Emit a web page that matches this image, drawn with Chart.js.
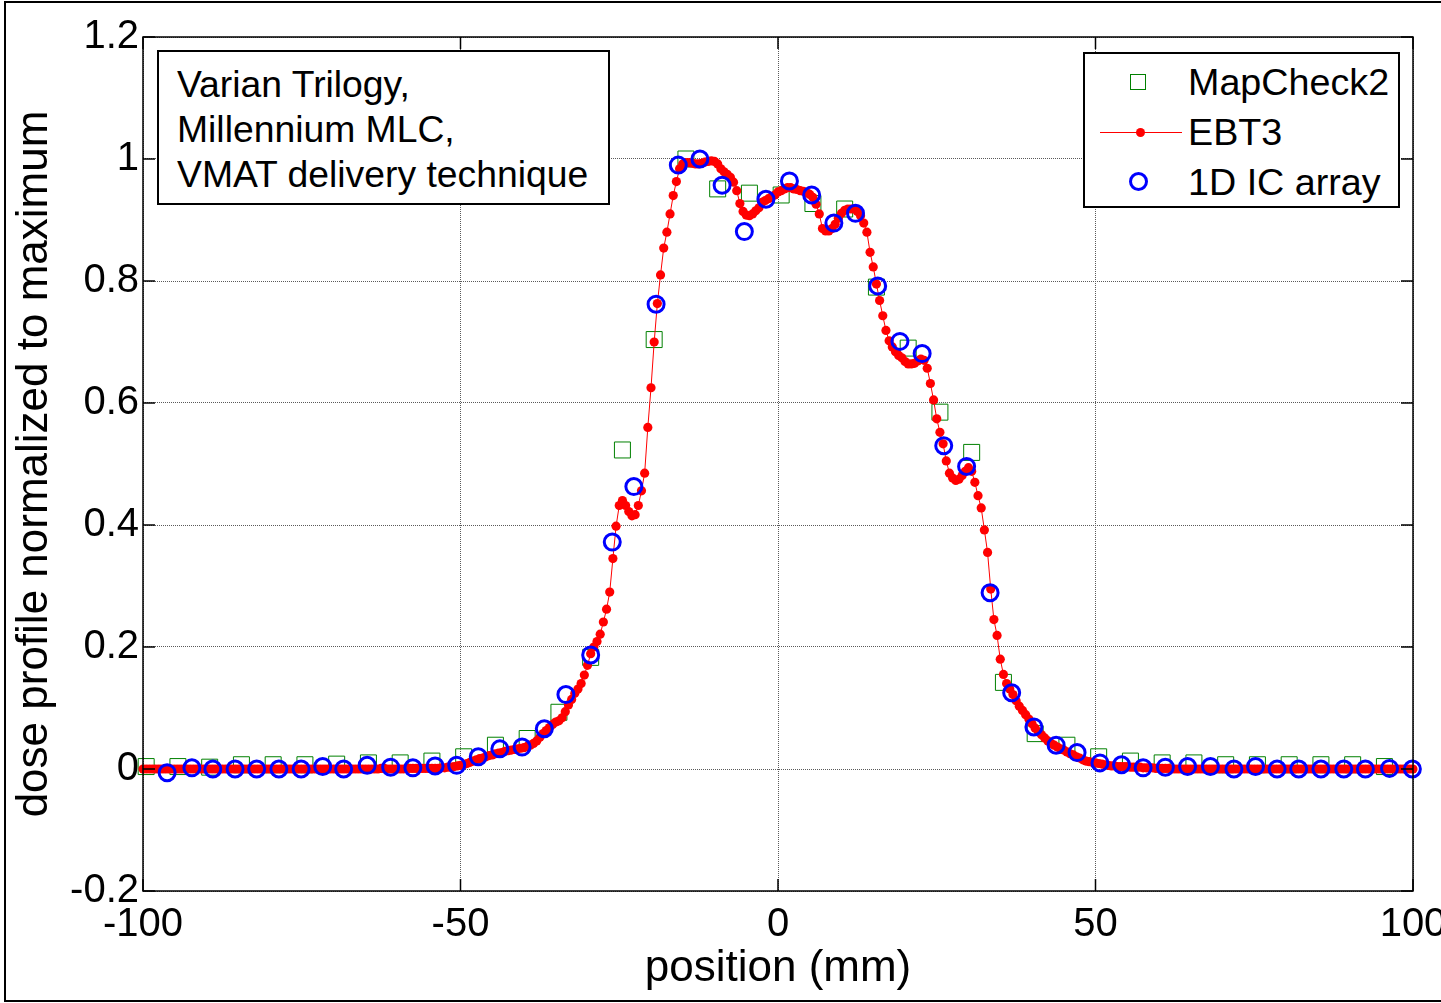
<!DOCTYPE html>
<html>
<head>
<meta charset="utf-8">
<title>Dose profile</title>
<script src="https://cdn.jsdelivr.net/npm/chart.js@4.4.1/dist/chart.umd.min.js"></script>
<style>
  body { margin: 0; background: #fff; font-family: "Liberation Sans", Arial, sans-serif; }
  #wrap { position: relative; width: 1441px; height: 1003px; overflow: hidden; }
  #chart { position: absolute; left: 0; top: 0; }
  .note {
    position: absolute; left: 157px; top: 50px; width: 453px; height: 155px;
    box-sizing: border-box; border: 2px solid #000; background: #fff;
    padding: 10px 0 0 18px; font-size: 37.3px; line-height: 45px; color: #000; white-space: nowrap;
  }
  .legend {
    position: absolute; left: 1083px; top: 52px; width: 317px; height: 156px;
    box-sizing: border-box; border: 2px solid #000; background: #fff;
  }
  .legend .lbl { position: absolute; left: 103px; height: 50px; line-height: 50px; font-size: 37.7px; color: #000; white-space: nowrap; }
  .legend .sq { position: absolute; left: 45px; top: 20px; width: 16px; height: 16px; box-sizing: border-box; border: 1px solid rgb(0,128,0); }
  .legend .ln { position: absolute; left: 15px; top: 78px; width: 82px; height: 1px; background: #f00; }
  .legend .dot { position: absolute; left: 51px; top: 74px; width: 9px; height: 9px; border-radius: 50%; background: #f00; }
  .legend .ring { position: absolute; left: 44px; top: 118px; width: 19px; height: 19px; box-sizing: border-box; border: 3px solid #00f; border-radius: 50%; }
</style>
</head>
<body>
<div id="wrap">
  <canvas id="chart" width="1441" height="1003"></canvas>
  <div class="note">Varian Trilogy,<br>Millennium MLC,<br>VMAT delivery technique</div>
  <div class="legend">
    <span class="sq"></span><div class="lbl" style="top:3px">MapCheck2</div>
    <span class="ln"></span><span class="dot"></span><div class="lbl" style="top:53px">EBT3</div>
    <span class="ring"></span><div class="lbl" style="top:103px">1D IC array</div>
  </div>
</div>
<script>
// axis ticks
const xTicks = [-100, -50, 0, 50, 100];
const xTickLabels = ['-100', '-50', '0', '50', '100'];
const yTicks = [-0.2, 0, 0.2, 0.4, 0.6, 0.8, 1.0, 1.2];
const yTickLabels = ['-0.2', '0', '0.2', '0.4', '0.6', '0.8', '1', '1.2'];

// MapCheck2 detectors (mm, relative dose)
const mapCheckPos = [
  -99.5, -94.5, -89.5, -84.5, -79.5, -74.5, -69.5, -64.5, -59.5, -54.5,
  -49.5, -44.5, -39.5, -34.5, -29.5, -24.5, -19.5, -14.5, -9.5, -4.5,
  0.5, 5.5, 10.5, 15.5, 20.5, 25.5, 30.5, 35.5, 40.5, 45.5,
  50.5, 55.5, 60.5, 65.5, 70.5, 75.5, 80.5, 85.5, 90.5, 95.5
];
const mapCheckDose = [
  0.004, 0.004, 0.003, 0.007, 0.007, 0.007, 0.008, 0.010, 0.010, 0.013,
  0.020, 0.039, 0.050, 0.093, 0.183, 0.523, 0.704, 1.000, 0.951, 0.944,
  0.941, 0.927, 0.918, 0.790, 0.690, 0.585, 0.519, 0.142, 0.058, 0.039,
  0.020, 0.013, 0.010, 0.010, 0.007, 0.007, 0.007, 0.007, 0.007, 0.004
];

// 1D ion chamber array
const icPos = [
  -96.2, -92.3, -89.0, -85.5, -82.1, -78.6, -75.1, -71.7, -68.4, -64.7, -61.0, -57.5, -54.0, -50.6,
  -47.2, -43.8, -40.3, -36.8, -33.4, -29.5, -26.1, -22.7, -19.2, -15.7, -12.3, -8.8, -5.3, -1.9,
  1.8, 5.3, 8.8, 12.2, 15.7, 19.2, 22.7, 26.1, 29.7, 33.4, 36.8, 40.3, 43.8, 47.1,
  50.7, 54.1, 57.5, 61.0, 64.5, 68.1, 71.8, 75.2, 78.6, 82.0, 85.5, 89.1, 92.5, 96.3, 99.9
];
const icDose = [
  -0.006, 0.002, 0, 0, 0, 0, 0, 0.004, 0, 0.006, 0.003, 0.002, 0.005, 0.006,
  0.020, 0.033, 0.036, 0.066, 0.122, 0.187, 0.372, 0.463, 0.762, 0.990, 1.000, 0.957, 0.881, 0.934,
  0.964, 0.941, 0.895, 0.911, 0.792, 0.701, 0.681, 0.530, 0.496, 0.289, 0.125, 0.069, 0.039, 0.027,
  0.010, 0.007, 0.002, 0.003, 0.004, 0.004, 0, 0.004, 0, 0, 0, 0, 0, 0.001, 0
];

// EBT3 film profile, one reading every 0.5 mm from -100 mm
const ebt3Start = -100;
const ebt3Step = 0.5;
const ebt3Dose = [
  0, 0, 0, 0, 0, 0, 0, 0, 0, 0,
  0, 0, 0, 0, 0, 0, 0, 0, 0, 0,
  0, 0, 0, 0, 0, 0, 0, 0, 0, 0,
  0, 0, 0, 0, 0, 0, 0, 0, 0, 0,
  0, 0, 0, 0, 0, 0, 0, 0, 0, 0,
  0, 0, 0, 0, 0, 0, 0, 0, 0, 0,
  0, 0, 0, 0, 0, 0, 0, 0, 0, 0,
  0, 0, 0, 0, 0, 0.001, 0.001, 0, 0, 0,
  0, 0, 0, 0.001, 0.001, 0.001, 0.001, 0.001, 0.001, 0.001,
  0.001, 0.001, 0.001, 0.001, 0.002, 0.002, 0.003, 0.003, 0.004, 0.005,
  0.006, 0.007, 0.009, 0.011, 0.013, 0.015, 0.017, 0.018, 0.020, 0.022,
  0.023, 0.025, 0.026, 0.027, 0.029, 0.030, 0.031, 0.032, 0.033, 0.034,
  0.035, 0.037, 0.039, 0.042, 0.046, 0.052, 0.058, 0.063, 0.068, 0.073,
  0.077, 0.079, 0.084, 0.094, 0.105, 0.114, 0.124, 0.131, 0.140, 0.154,
  0.170, 0.189, 0.200, 0.209, 0.221, 0.241, 0.262, 0.290, 0.345, 0.398,
  0.432, 0.440, 0.432, 0.422, 0.415, 0.417, 0.432, 0.456, 0.485, 0.560,
  0.625, 0.700, 0.763, 0.810, 0.854, 0.880, 0.910, 0.940, 0.963, 0.984,
  0.992, 0.994, 0.994, 0.993, 0.992, 0.992, 0.993, 0.995, 0.996, 0.997,
  0.996, 0.992, 0.984, 0.979, 0.975, 0.970, 0.962, 0.948, 0.927, 0.914,
  0.908, 0.907, 0.910, 0.915, 0.920, 0.929, 0.932, 0.935, 0.938, 0.941,
  0.946, 0.948, 0.951, 0.953, 0.953, 0.951, 0.950, 0.948, 0.947, 0.945,
  0.942, 0.937, 0.926, 0.910, 0.886, 0.882, 0.882, 0.886, 0.893, 0.903,
  0.911, 0.916, 0.918, 0.918, 0.918, 0.914, 0.907, 0.895, 0.880, 0.847,
  0.823, 0.795, 0.768, 0.743, 0.719, 0.702, 0.692, 0.684, 0.678, 0.674,
  0.668, 0.664, 0.664, 0.665, 0.669, 0.672, 0.670, 0.657, 0.632, 0.605,
  0.574, 0.552, 0.533, 0.505, 0.485, 0.477, 0.473, 0.475, 0.481, 0.488,
  0.494, 0.488, 0.470, 0.448, 0.428, 0.392, 0.355, 0.295, 0.245, 0.219,
  0.180, 0.155, 0.140, 0.131, 0.122, 0.112, 0.103, 0.096, 0.089, 0.082,
  0.074, 0.067, 0.061, 0.056, 0.051, 0.046, 0.042, 0.039, 0.036, 0.033,
  0.031, 0.028, 0.025, 0.023, 0.020, 0.018, 0.015, 0.013, 0.012, 0.011,
  0.010, 0.009, 0.008, 0.007, 0.006, 0.005, 0.005, 0.004, 0.004, 0.004,
  0.004, 0.003, 0.003, 0.003, 0.003, 0.002, 0.002, 0.002, 0.002, 0.001,
  0.001, 0.001, 0.001, 0.001, 0, 0, 0, 0, 0, 0,
  0, 0, 0, 0, 0, 0, 0, 0, 0, 0,
  0, 0, 0, 0, 0, 0, 0, 0, 0, 0,
  0, 0, 0, 0, 0, 0, 0, 0, 0, 0,
  0, 0, 0, 0, 0, 0, 0, 0, 0, 0,
  0, 0, 0, 0, 0, 0, 0, 0, 0, 0,
  0, 0, 0, 0, 0, 0, 0, 0, 0, 0,
  0, 0, 0, 0, 0, 0, 0, 0, 0, 0,
  0
];

const fontFamily = '"Liberation Sans", Arial, sans-serif';

// box around the axes, inward ticks on all four sides, and the figure frame
const matlabAxes = {
  id: 'matlabAxes',
  afterDraw(chart) {
    const ctx = chart.ctx;
    const a = chart.chartArea;
    const xs = chart.scales.x, ys = chart.scales.y;
    const tickLen = 12;
    ctx.save();
    ctx.strokeStyle = '#000';
    ctx.lineWidth = 1.5;
    ctx.strokeRect(a.left, a.top, a.right - a.left, a.bottom - a.top);
    ctx.beginPath();
    xTicks.forEach(v => {
      const px = xs.getPixelForValue(v);
      ctx.moveTo(px, a.bottom); ctx.lineTo(px, a.bottom - tickLen);
      ctx.moveTo(px, a.top); ctx.lineTo(px, a.top + tickLen);
    });
    yTicks.forEach(v => {
      const py = ys.getPixelForValue(v);
      ctx.moveTo(a.left, py); ctx.lineTo(a.left + tickLen, py);
      ctx.moveTo(a.right, py); ctx.lineTo(a.right - tickLen, py);
    });
    ctx.stroke();
    // outer figure frame
    ctx.lineWidth = 2;
    ctx.beginPath();
    ctx.moveTo(1441, 2); ctx.lineTo(5, 2); ctx.lineTo(5, 1001); ctx.lineTo(1441, 1001);
    ctx.stroke();
    ctx.restore();
  }
};

const ctx = document.getElementById('chart').getContext('2d');
new Chart(ctx, {
  type: 'scatter',
  data: {
    datasets: [
      {
        label: 'MapCheck2',
        data: mapCheckPos.map((x, i) => ({ x: x, y: mapCheckDose[i] })),
        pointStyle: 'rect',
        pointRadius: 11.3,
        pointBorderWidth: 1,
        pointBorderColor: 'rgb(0,128,0)',
        pointBackgroundColor: 'rgba(0,0,0,0)',
        showLine: false,
        clip: false,
        order: 3
      },
      {
        label: 'EBT3',
        data: ebt3Dose.map((d, i) => ({ x: ebt3Start + i * ebt3Step, y: d })),
        showLine: true,
        borderColor: '#ff0000',
        borderWidth: 1,
        pointRadius: 4.6,
        pointBorderWidth: 0,
        pointBackgroundColor: '#ff0000',
        clip: false,
        order: 2
      },
      {
        label: '1D IC array',
        data: icPos.map((x, i) => ({ x: x, y: icDose[i] })),
        pointStyle: 'circle',
        pointRadius: 8,
        pointBorderWidth: 3,
        pointBorderColor: '#0000ff',
        pointBackgroundColor: 'rgba(0,0,0,0)',
        showLine: false,
        clip: false,
        order: 1
      }
    ]
  },
  options: {
    responsive: false,
    animation: false,
    devicePixelRatio: 1,
    events: [],
    layout: { padding: { left: 0, top: 37, right: 28, bottom: 0 } },
    plugins: { legend: { display: false }, tooltip: { enabled: false } },
    scales: {
      x: {
        type: 'linear',
        min: -100,
        max: 100,
        afterBuildTicks: s => { s.ticks = xTicks.map(v => ({ value: v })); },
        afterFit: s => { s.height = 112; s.paddingLeft = 0; s.paddingRight = 0; },
        ticks: {
          callback: (v, i) => xTickLabels[i],
          color: '#000',
          font: { family: fontFamily, size: 40 },
          padding: 10,
          maxRotation: 0,
          autoSkip: false
        },
        grid: { color: '#5a5a5a', lineWidth: 1, drawTicks: false },
        border: { display: false, dash: [1, 1] },
        title: {
          display: true,
          text: 'position (mm)',
          color: '#000',
          font: { family: fontFamily, size: 44 },
          padding: { top: 0, bottom: 8 }
        }
      },
      y: {
        type: 'linear',
        min: -0.2,
        max: 1.2,
        afterBuildTicks: s => { s.ticks = yTicks.map(v => ({ value: v })); },
        afterFit: s => { s.width = 143; s.paddingTop = 0; s.paddingBottom = 0; },
        ticks: {
          callback: (v, i) => yTickLabels[i],
          color: '#000',
          font: { family: fontFamily, size: 40 },
          padding: 4
        },
        grid: { color: '#5a5a5a', lineWidth: 1, drawTicks: false },
        border: { display: false, dash: [1, 1] },
        title: {
          display: true,
          text: 'dose profile normalized to maximum',
          color: '#000',
          font: { family: fontFamily, size: 44 },
          padding: { top: 8, bottom: 0 }
        }
      }
    }
  },
  plugins: [matlabAxes]
});
</script>
</body>
</html>
